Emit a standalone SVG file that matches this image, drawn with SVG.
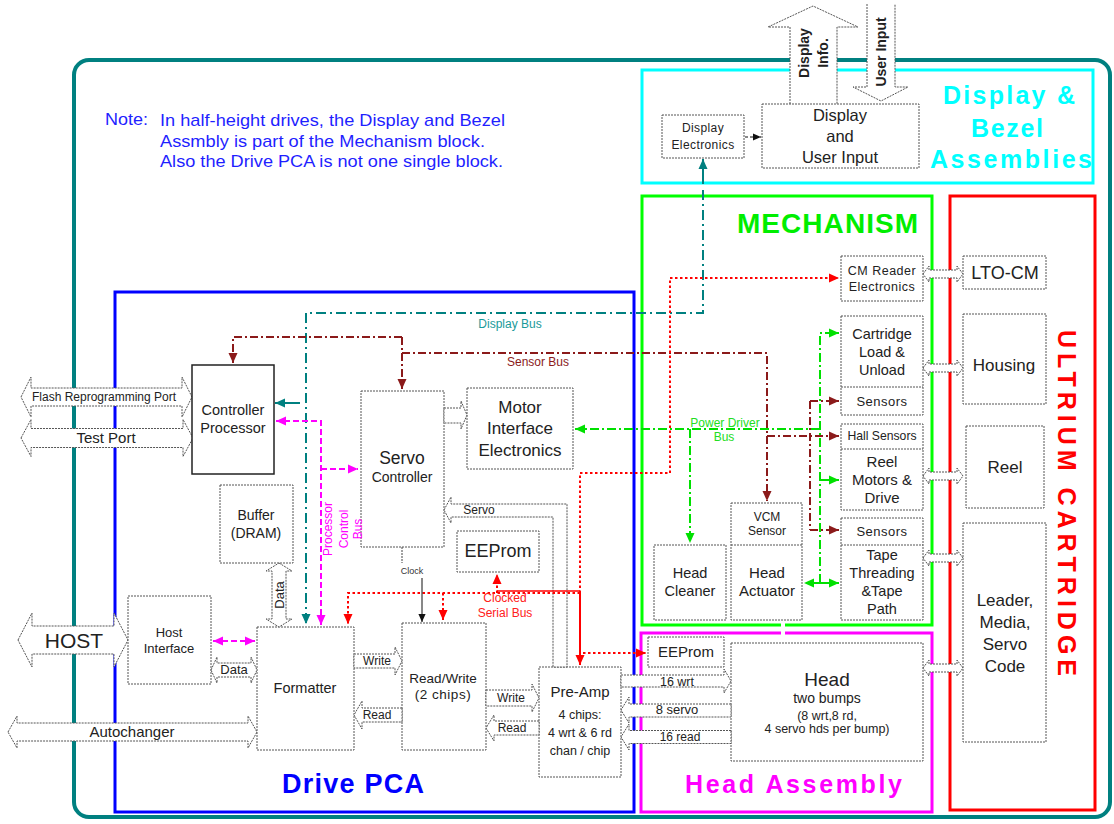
<svg xmlns="http://www.w3.org/2000/svg" width="1114" height="824" viewBox="0 0 1114 824">
<style>
text{font-family:"Liberation Sans",Arial,sans-serif;fill:#222;text-anchor:middle}
.box{fill:#fff;stroke:#555;stroke-width:1;stroke-dasharray:2 1}
.hol{fill:#fff;stroke:#555;stroke-width:1;stroke-dasharray:2 1}
.ttl{font-weight:bold}
.teal{stroke:#008080;stroke-width:2;fill:none}
.dred{stroke:#8b1a1a;stroke-width:2;fill:none;stroke-dasharray:8 3 2 3}
.red{stroke:#ff0000;stroke-width:2;fill:none;stroke-dasharray:2.5 2.5}
.mag{stroke:#ff00ff;stroke-width:2;fill:none;stroke-dasharray:6 3}
.grn{stroke:#00e000;stroke-width:2;fill:none;stroke-dasharray:9 3 2 3}
</style>
<defs>
<marker id="aT" viewBox="0 0 10 10" refX="10" refY="5" markerWidth="10" markerHeight="10" markerUnits="userSpaceOnUse" orient="auto-start-reverse"><path d="M0,0.5 L10,5 L0,9.5 z" fill="#008080"/></marker>
<marker id="aD" viewBox="0 0 10 10" refX="10" refY="5" markerWidth="10" markerHeight="10" markerUnits="userSpaceOnUse" orient="auto-start-reverse"><path d="M0,0.5 L10,5 L0,9.5 z" fill="#8b1a1a"/></marker>
<marker id="aR" viewBox="0 0 10 10" refX="10" refY="5" markerWidth="10" markerHeight="10" markerUnits="userSpaceOnUse" orient="auto-start-reverse"><path d="M0,0.5 L10,5 L0,9.5 z" fill="#ff0000"/></marker>
<marker id="aM" viewBox="0 0 10 10" refX="10" refY="5" markerWidth="10" markerHeight="10" markerUnits="userSpaceOnUse" orient="auto-start-reverse"><path d="M0,0.5 L10,5 L0,9.5 z" fill="#ff00ff"/></marker>
<marker id="aG" viewBox="0 0 10 10" refX="10" refY="5" markerWidth="10" markerHeight="10" markerUnits="userSpaceOnUse" orient="auto-start-reverse"><path d="M0,0.5 L10,5 L0,9.5 z" fill="#00e000"/></marker>
<marker id="aK" viewBox="0 0 10 10" refX="10" refY="5" markerWidth="8" markerHeight="8" markerUnits="userSpaceOnUse" orient="auto-start-reverse"><path d="M0,0.5 L10,5 L0,9.5 z" fill="#111"/></marker>
</defs>
<rect width="1114" height="824" fill="#fff"/>

<!-- containers -->
<g id="outer"><rect x="74" y="60" width="1036" height="757" rx="15" fill="none" stroke="#008080" stroke-width="4"/></g>
<g id="note">
<text x="105" y="125" style="text-anchor:start;fill:#1f1fff;font-size:17px" textLength="43" lengthAdjust="spacingAndGlyphs">Note:</text>
<text x="160" y="126" style="text-anchor:start;fill:#1f1fff;font-size:17px" textLength="345" lengthAdjust="spacingAndGlyphs">In half-height drives, the Display and Bezel</text>
<text x="160" y="147" style="text-anchor:start;fill:#1f1fff;font-size:17px" textLength="325" lengthAdjust="spacingAndGlyphs">Assmbly is part of the Mechanism block.</text>
<text x="160" y="167" style="text-anchor:start;fill:#1f1fff;font-size:17px" textLength="343" lengthAdjust="spacingAndGlyphs">Also the Drive PCA is not one single block.</text>
</g>
<g id="display-bezel">
<rect x="642" y="70" width="451" height="113" fill="none" stroke="#00ffff" stroke-width="3"/>
<text class="ttl" x="1009" y="104" style="fill:#00ffff;font-size:25px" textLength="132" lengthAdjust="spacing">Display &amp;</text>
<text class="ttl" x="1007" y="137" style="fill:#00ffff;font-size:25px" textLength="72" lengthAdjust="spacing">Bezel</text>
<text class="ttl" x="1011" y="168" style="fill:#00ffff;font-size:25px" textLength="162" lengthAdjust="spacing">Assemblies</text>
</g>
<g id="drive-pca">
<rect x="115" y="292" width="519" height="520" fill="none" stroke="#0000ff" stroke-width="3"/>
<text class="ttl" x="282" y="793" style="text-anchor:start;fill:#0000ff;font-size:27px" textLength="142" lengthAdjust="spacing">Drive PCA</text>
</g>
<g id="mechanism">
<path d="M781,625 H642 V196 H932 V625 H785" fill="none" stroke="#00ff00" stroke-width="3"/>
<text class="ttl" x="737" y="233" style="text-anchor:start;fill:#00ee00;font-size:28px" textLength="181" lengthAdjust="spacing">MECHANISM</text>
</g>
<g id="head-assembly">
<path d="M781,633 H641 V812 H932 V633 H785" fill="none" stroke="#ff00ff" stroke-width="3"/>
<text class="ttl" x="685" y="793" style="text-anchor:start;fill:#ff00ff;font-size:25px" textLength="217" lengthAdjust="spacing">Head Assembly</text>
</g>
<g id="ultrium">
<rect x="950" y="196" width="145" height="614" fill="none" stroke="#ff0000" stroke-width="3"/>
<text class="ttl" transform="translate(1058,503) rotate(90)" style="fill:#ff0000;font-size:25px" textLength="346" lengthAdjust="spacing">ULTRIUM CARTRIDGE</text>
</g>

<!-- external hollow arrows -->
<g id="display-info"><path class="hol" d="M790,104 V27 H768 L813,6 L858,27 H837 V104"/>
<text class="ttl" transform="translate(809,53) rotate(-90)" style="font-size:14px">Display</text>
<text class="ttl" transform="translate(828,53) rotate(-90)" style="font-size:14px">Info.</text></g>
<g id="user-input-arrow"><path class="hol" d="M867,4 V87 H853 L881,101 L908,87 H895 V4"/>
<text class="ttl" transform="translate(886,52) rotate(-90)" style="font-size:14px">User Input</text></g>
<g id="flash-port"><polygon class="hol" points="21,397 31,377 31,388 182,388 182,377 192,397 182,417 182,406 31,406 31,417"/>
<text x="104" y="401" style="font-size:12px">Flash Reprogramming Port</text></g>
<g id="test-port"><polygon class="hol" points="21,438 31,419.5 31,428.5 183,428.5 183,419.5 193,438 183,456.5 183,447.5 31,447.5 31,456.5"/>
<text x="106" y="443" style="font-size:15px">Test Port</text></g>
<g id="host"><polygon class="hol" points="18,640 32,613 32,626 114,626 114,613 128,640 114,667 114,654 32,654 32,667"/>
<text x="74" y="648" style="font-size:21px">HOST</text></g>
<g id="autochanger"><polygon class="hol" points="8,732 17,716 17,723 248,723 248,716 257,732 248,748 248,741 17,741 17,748"/>
<text x="132" y="737" style="font-size:15px">Autochanger</text></g>

<!-- nodes -->
<g id="display-electronics"><rect class="box" x="662" y="115" width="82" height="43"/>
<text x="703" y="132" style="font-size:12px;letter-spacing:0.4px">Display</text>
<text x="703" y="149" style="font-size:12px;letter-spacing:0.4px">Electronics</text></g>
<g id="display-user-input"><rect class="box" x="762" y="104" width="157" height="64"/>
<text x="840" y="121" style="font-size:16.5px">Display</text>
<text x="840" y="142" style="font-size:16.5px">and</text>
<text x="840" y="163" style="font-size:16.5px">User Input</text></g>
<g id="controller"><rect x="192" y="365" width="82" height="109" fill="#fff" stroke="#222" stroke-width="1.5"/>
<text x="233" y="415" style="font-size:14.5px">Controller</text>
<text x="233" y="433" style="font-size:14.5px">Processor</text></g>
<g id="servo"><rect class="box" x="361" y="391" width="83" height="156"/>
<text x="402" y="464" style="font-size:17.5px">Servo</text>
<text x="402" y="482" style="font-size:14px">Controller</text></g>
<g id="motor-if"><rect class="box" x="467" y="388" width="106" height="81"/>
<text x="520" y="413" style="font-size:17px">Motor</text>
<text x="520" y="434" style="font-size:17px">Interface</text>
<text x="520" y="456" style="font-size:17px">Electronics</text></g>
<g id="buffer"><rect class="box" x="220" y="485" width="73" height="78"/>
<text x="256" y="520" style="font-size:14px">Buffer</text>
<text x="256" y="538" style="font-size:14px">(DRAM)</text></g>
<g id="host-if"><rect class="box" x="128" y="596" width="83" height="88"/>
<text x="169" y="637" style="font-size:13px">Host</text>
<text x="169" y="653" style="font-size:13px">Interface</text></g>
<g id="formatter"><rect class="box" x="257" y="627" width="97" height="123"/>
<text x="305" y="693" style="font-size:14.5px">Formatter</text></g>
<g id="eeprom-pca"><rect class="box" x="457" y="531" width="82" height="41"/>
<text x="498" y="557" style="font-size:18px">EEProm</text></g>
<g id="readwrite"><rect class="box" x="402" y="623" width="84" height="127"/>
<text x="443" y="683" style="font-size:13.5px">Read/Write</text>
<text x="443" y="699" style="font-size:13.5px;letter-spacing:0.5px">(2 chips)</text></g>
<g id="preamp"><rect class="box" x="539" y="667" width="82" height="110"/>
<text x="580" y="697" style="font-size:15px">Pre-Amp</text>
<text x="580" y="719" style="font-size:12.5px">4 chips:</text>
<text x="580" y="737" style="font-size:12.5px">4 wrt &amp; 6 rd</text>
<text x="580" y="755" style="font-size:12.5px">chan / chip</text></g>
<g id="cm-reader"><rect class="box" x="841" y="256" width="82" height="45"/>
<text x="882" y="275" style="font-size:12.5px;letter-spacing:0.5px">CM Reader</text>
<text x="882" y="291" style="font-size:12.5px;letter-spacing:0.5px">Electronics</text></g>
<g id="cart-load"><rect class="box" x="841" y="316" width="82" height="99"/>
<line class="box" x1="841" y1="387" x2="923" y2="387"/>
<text x="882" y="339" style="font-size:14.5px">Cartridge</text>
<text x="882" y="357" style="font-size:14.5px">Load &amp;</text>
<text x="882" y="375" style="font-size:14.5px">Unload</text>
<text x="882" y="406" style="font-size:13px;letter-spacing:0.5px">Sensors</text></g>
<g id="reel-motors"><rect class="box" x="841" y="424" width="82" height="86"/>
<line class="box" x1="841" y1="449" x2="923" y2="449"/>
<text x="882" y="440" style="font-size:12.2px">Hall Sensors</text>
<text x="882" y="467" style="font-size:15px">Reel</text>
<text x="882" y="485" style="font-size:15px">Motors &amp;</text>
<text x="882" y="503" style="font-size:15px">Drive</text></g>
<g id="tape-threading"><rect class="box" x="841" y="518" width="82" height="102"/>
<line class="box" x1="841" y1="545" x2="923" y2="545"/>
<text x="882" y="536" style="font-size:13px;letter-spacing:0.5px">Sensors</text>
<text x="882" y="560" style="font-size:14.5px">Tape</text>
<text x="882" y="578" style="font-size:14.5px">Threading</text>
<text x="882" y="596" style="font-size:14.5px">&amp;Tape</text>
<text x="882" y="614" style="font-size:14.5px">Path</text></g>
<g id="head-cleaner"><rect class="box" x="654" y="545" width="72" height="75"/>
<text x="690" y="578" style="font-size:14.5px">Head</text>
<text x="690" y="596" style="font-size:14.5px">Cleaner</text></g>
<g id="head-actuator"><rect class="box" x="731" y="503" width="71" height="117"/>
<line class="box" x1="731" y1="545" x2="802" y2="545"/>
<text x="767" y="521" style="font-size:12px">VCM</text>
<text x="767" y="535" style="font-size:12px">Sensor</text>
<text x="767" y="578" style="font-size:15px">Head</text>
<text x="767" y="596" style="font-size:15px">Actuator</text></g>
<g id="eeprom-head"><rect class="box" x="648" y="637" width="76" height="30"/>
<text x="686" y="657" style="font-size:15px">EEProm</text></g>
<g id="head"><rect class="box" x="731" y="643" width="192" height="118"/>
<text x="827" y="686" style="font-size:19px">Head</text>
<text x="827" y="703" style="font-size:14px">two bumps</text>
<text x="827" y="720" style="font-size:12.5px">(8 wrt,8 rd,</text>
<text x="827" y="733" style="font-size:12.5px">4 servo hds per bump)</text></g>
<g id="lto-cm"><rect class="box" x="963" y="256" width="83" height="33"/>
<text x="1005" y="279" style="font-size:18px">LTO-CM</text></g>
<g id="housing"><rect class="box" x="963" y="314" width="83" height="90"/>
<text x="1004" y="371" style="font-size:17px">Housing</text></g>
<g id="reel"><rect class="box" x="966" y="426" width="78" height="82"/>
<text x="1005" y="473" style="font-size:17px">Reel</text></g>
<g id="leader"><rect class="box" x="963" y="523" width="83" height="219"/>
<text x="1005" y="606" style="font-size:17px">Leader,</text>
<text x="1005" y="628" style="font-size:17px">Media,</text>
<text x="1005" y="650" style="font-size:17px">Servo</text>
<text x="1005" y="672" style="font-size:17px">Code</text></g>

<!-- connectors -->
<g id="connectors">
<!-- hollow data arrows -->
<polygon class="hol" points="211,670 217,657 217,663 251,663 251,657 257,670 251,683 251,677 217,677 217,683"/>
<text x="234" y="674" style="font-size:13px">Data</text>
<polygon class="hol" points="279,563 292,571 286,571 286,619 292,619 279,627 266,619 272,619 272,571 266,571"/>
<text transform="translate(284,595) rotate(-90)" style="font-size:13px">Data</text>
<polygon class="hol" points="354,654 395,654 395,647 402,661 395,675 395,668 354,668"/>
<text x="377" y="665" style="font-size:12px">Write</text>
<polygon class="hol" points="402,708 362,708 362,701 354,715 362,729 362,722 402,722"/>
<text x="377" y="719" style="font-size:12px">Read</text>
<polygon class="hol" points="486,690 532,690 532,684 539,698 532,712 532,706 486,706"/>
<text x="511" y="702" style="font-size:12px">Write</text>
<polygon class="hol" points="539,721 494,721 494,715 486,728 494,741 494,735 539,735"/>
<text x="512" y="732" style="font-size:12px">Read</text>
<polygon class="hol" points="444,510 451,497 451,504 567,504 567,667 553,667 553,517 451,517 451,523"/>
<text x="479" y="514" style="font-size:12px">Servo</text>
<polygon class="hol" points="444,408 461,408 461,401 467,415 461,429 461,423 444,423"/>
<polygon class="hol" points="621,675 724,675 724,669 731,681 724,693 724,687 621,687"/>
<text x="677" y="686" style="font-size:12.5px">16 wrt</text>
<polygon class="hol" points="731,730.5 629,730.5 629,724 621,737 629,750 629,743.5 731,743.5"/>
<text x="680" y="741" style="font-size:12px">16 read</text>
<polygon class="hol" points="731,704 629,704 629,697 621,710 629,723 629,717 731,717"/>
<text x="677" y="714" style="font-size:13px">8 servo</text>
<!-- mechanism to cartridge -->
<polygon class="hol" points="923,274 929,266 929,270 957,270 957,266 963,274 957,282 957,278 929,278 929,282"/>
<polygon class="hol" points="923,368 929,360 929,364 957,364 957,360 963,368 957,376 957,372 929,372 929,376"/>
<polygon class="hol" points="923,476 929,468 929,472 957,472 957,468 963,476 957,484 957,480 929,480 929,484"/>
<polygon class="hol" points="923,558 929,550 929,554 957,554 957,550 963,558 957,566 957,562 929,562 929,566"/>
<polygon class="hol" points="923,668 929,660 929,664 957,664 957,660 963,668 957,676 957,672 929,672 929,676"/>
<!-- display electronics to display -->
<line x1="745" y1="137" x2="761" y2="137" stroke="#111" stroke-width="1" stroke-dasharray="3 2" marker-end="url(#aK)"/>
<!-- teal display bus -->
<line x1="703" y1="184" x2="703" y2="159" stroke="#008080" stroke-width="2" marker-end="url(#aT)"/>
<path class="teal" stroke-dasharray="10 4 2 4" d="M703,190 V313 H306 V624" marker-end="url(#aT)"/>
<line x1="300" y1="403" x2="275" y2="403" stroke="#008080" stroke-width="2" marker-end="url(#aT)"/>
<text x="510" y="328" style="font-size:12px;fill:#1a9a9a">Display Bus</text>
<!-- sensor bus -->
<path class="dred" d="M402,337 H233 V363" marker-end="url(#aD)"/>
<path class="dred" d="M402,337 V389" marker-end="url(#aD)"/>
<path class="dred" d="M402,353 H767 V501" marker-end="url(#aD)"/>
<path class="dred" d="M767,436 H839" marker-end="url(#aD)"/>
<path class="dred" d="M810,401 V530"/>
<path class="dred" d="M810,401 H839" marker-end="url(#aD)"/>
<path class="dred" d="M810,530 H839" marker-end="url(#aD)"/>
<text x="538" y="366" style="font-size:12px;fill:#8b1a1a">Sensor Bus</text>
<!-- processor control bus -->
<path class="mag" d="M321,624 V421 H276" marker-end="url(#aM)"/>
<line x1="321" y1="624" x2="321" y2="625" stroke="#ff00ff" stroke-width="2" marker-end="url(#aM)"/>
<path class="mag" d="M321,469 H358" marker-end="url(#aM)"/>
<text transform="translate(332,529) rotate(-90)" style="font-size:12px;fill:#ff00ff">Processor</text>
<text transform="translate(348,529) rotate(-90)" style="font-size:12px;fill:#ff00ff">Control</text>
<text transform="translate(362,529) rotate(-90)" style="font-size:12px;fill:#ff00ff">Bus</text>
<line class="mag" x1="213" y1="641" x2="255" y2="641" marker-start="url(#aM)" marker-end="url(#aM)"/>
<!-- clocked serial bus -->
<path class="red" d="M580,593 V473 H670 V278 H839" marker-end="url(#aR)"/>
<path class="red" d="M580,593 H348 V624" marker-end="url(#aR)"/>
<path class="red" d="M443,593 V620" marker-end="url(#aR)"/>
<path class="red" d="M497,593 V574" marker-end="url(#aR)"/>
<line x1="497" y1="591" x2="580" y2="591" stroke="#ff0000" stroke-width="1.5"/>
<line x1="580" y1="591" x2="580" y2="665" stroke="#ff0000" stroke-width="2" marker-end="url(#aR)"/>
<path class="red" d="M583,653 H646" marker-end="url(#aR)"/>
<text x="505" y="602" style="font-size:12px;fill:#ff2020">Clocked</text>
<text x="505" y="617" style="font-size:12px;fill:#ff2020">Serial Bus</text>
<!-- clock -->
<line x1="402" y1="547" x2="402" y2="563" stroke="#444" stroke-width="1" stroke-dasharray="2 1"/>
<text x="412" y="574" style="font-size:9px;fill:#333">Clock</text>
<line x1="422" y1="578" x2="422" y2="622" stroke="#111" stroke-width="1" marker-end="url(#aK)"/>
<!-- power driver bus -->
<path class="grn" d="M820,583 V333 H839" marker-end="url(#aG)"/>
<path class="grn" d="M820,429 H575" marker-end="url(#aG)"/>
<path class="grn" d="M690,429 V543" marker-end="url(#aG)"/>
<path class="grn" d="M820,480 H839" marker-end="url(#aG)"/>
<path class="grn" d="M820,583 H839" marker-end="url(#aG)"/>
<path class="grn" d="M820,583 H804" marker-end="url(#aG)"/>
<text x="725" y="427" style="font-size:12px;fill:#22dd22">Power Driver</text>
<text x="724" y="441" style="font-size:12px;fill:#22dd22">Bus</text>
</g>
</svg>
